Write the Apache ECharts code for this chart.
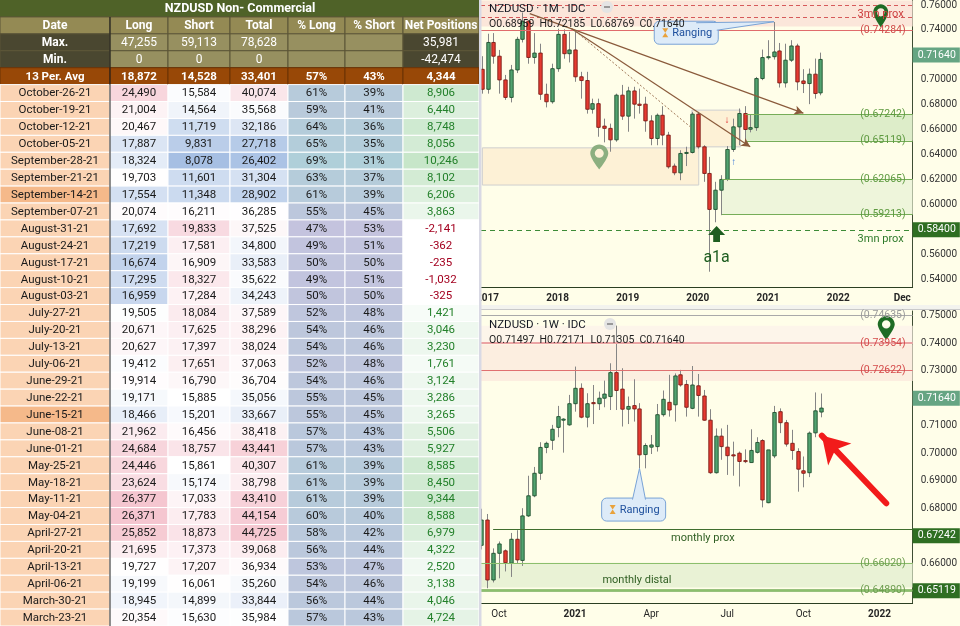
<!DOCTYPE html>
<html>
<head>
<meta charset="utf-8">
<title>NZDUSD Non-Commercial</title>
<script src="https://cdn.jsdelivr.net/npm/echarts@6.0.0/dist/echarts.min.js"></script>
<style>
  html, body { margin: 0; padding: 0; background: #ffffff; }
  #main { width: 960px; height: 626px; }
</style>
</head>
<body>
<div id="main"></div>
<script>
// ---------- COT table ----------
var tableTitle = 'NZDUSD Non- Commercial';
var headers = ['Date', 'Long', 'Short', 'Total', '% Long', '% Short', 'Net Positions'];
var maxRow = ['Max.', 47255, 59113, 78628, null, null, 35981];
var minRow = ['Min.', 0, 0, 0, null, null, -42474];
var avgRow = ['13 Per. Avg', 18872, 14528, 33401, 57, 43, 4344];

var reportDates = ['October-26-21', 'October-19-21', 'October-12-21', 'October-05-21',
  'September-28-21', 'September-21-21', 'September-14-21', 'September-07-21',
  'August-31-21', 'August-24-21', 'August-17-21', 'August-10-21', 'August-03-21',
  'July-27-21', 'July-20-21', 'July-13-21', 'July-06-21',
  'June-29-21', 'June-22-21', 'June-15-21', 'June-08-21', 'June-01-21',
  'May-25-21', 'May-18-21', 'May-11-21', 'May-04-21',
  'April-27-21', 'April-20-21', 'April-13-21', 'April-06-21',
  'March-30-21', 'March-23-21'];
var longPos = [24490, 21004, 20467, 17887, 18324, 19703, 17554, 20074, 17692, 17219, 16674, 17295, 16959,
  19505, 20671, 20627, 19412, 19914, 19171, 18466, 21962, 24684, 24446, 23624, 26377, 26371,
  25852, 21695, 19727, 19199, 18945, 20354];
var shortPos = [15584, 14564, 11719, 9831, 8078, 11601, 11348, 16211, 19833, 17581, 16909, 18327, 17284,
  18084, 17625, 17397, 17651, 16790, 15885, 15201, 16456, 18757, 15861, 15174, 17033, 17783,
  18873, 17373, 17207, 16061, 14899, 15630];
var totalPos = [40074, 35568, 32186, 27718, 26402, 31304, 28902, 36285, 37525, 34800, 33583, 35622, 34243,
  37589, 38296, 38024, 37063, 36704, 35056, 33667, 38418, 43441, 40307, 38798, 43410, 44154,
  44725, 39068, 36934, 35260, 33844, 35984];
var pctLong = [61, 59, 64, 65, 69, 63, 61, 55, 47, 49, 50, 49, 50, 52, 54, 54, 52, 54, 55, 55, 57, 57,
  61, 61, 61, 60, 58, 56, 53, 54, 56, 57];
var pctShort = [39, 41, 36, 35, 31, 37, 39, 45, 53, 51, 50, 51, 50, 48, 46, 46, 48, 46, 45, 45, 43, 43,
  39, 39, 39, 40, 42, 44, 47, 46, 44, 43];
var netPos = [8906, 6440, 8748, 8056, 10246, 8102, 6206, 3863, -2141, -362, -235, -1032, -325,
  1421, 3046, 3230, 1761, 3124, 3286, 3265, 5506, 5927, 8585, 8450, 9344, 8588,
  6979, 4322, 2520, 3138, 4046, 4724];
var markedDates = ['September-14-21', 'June-15-21'];

// ---------- monthly NZDUSD ----------
var monthDates = ['2016-12',
  '2017-01', '2017-02', '2017-03', '2017-04', '2017-05', '2017-06', '2017-07', '2017-08', '2017-09', '2017-10', '2017-11', '2017-12',
  '2018-01', '2018-02', '2018-03', '2018-04', '2018-05', '2018-06', '2018-07', '2018-08', '2018-09', '2018-10', '2018-11', '2018-12',
  '2019-01', '2019-02', '2019-03', '2019-04', '2019-05', '2019-06', '2019-07', '2019-08', '2019-09', '2019-10', '2019-11', '2019-12',
  '2020-01', '2020-02', '2020-03', '2020-04', '2020-05', '2020-06', '2020-07', '2020-08', '2020-09', '2020-10', '2020-11', '2020-12',
  '2021-01', '2021-02', '2021-03', '2021-04', '2021-05', '2021-06', '2021-07', '2021-08', '2021-09', '2021-10'];
var monthOpen = [0.7085,
  0.6925, 0.7300, 0.7190, 0.7000, 0.6860, 0.7080, 0.7325, 0.7470, 0.7180, 0.7215, 0.6885, 0.6825,
  0.7090, 0.7365, 0.7210, 0.7240, 0.7025, 0.6995, 0.6765, 0.6810, 0.6630, 0.6612, 0.6520, 0.6878,
  0.6710, 0.6912, 0.6806, 0.6806, 0.6672, 0.6531, 0.6717, 0.6558, 0.6310, 0.6256, 0.6411, 0.6419,
  0.6726, 0.6464, 0.6251, 0.5963, 0.6117, 0.6203, 0.6443, 0.6624, 0.6731, 0.6605, 0.6618, 0.7011,
  0.7179, 0.7186, 0.7232, 0.6976, 0.7158, 0.7272, 0.6992, 0.6971, 0.7046, 0.68959];
var monthHigh = [0.7190,
  0.7370, 0.7375, 0.7240, 0.7040, 0.7120, 0.7345, 0.7540, 0.7480, 0.7375, 0.7290, 0.6970, 0.7130,
  0.7410, 0.7405, 0.7385, 0.7385, 0.7065, 0.7065, 0.6850, 0.6850, 0.6690, 0.6650, 0.6890, 0.6960,
  0.6945, 0.6945, 0.6930, 0.6865, 0.6717, 0.6731, 0.6790, 0.6584, 0.6330, 0.6437, 0.6465, 0.6744,
  0.6744, 0.6477, 0.6384, 0.6184, 0.6237, 0.6470, 0.6690, 0.6771, 0.6790, 0.6720, 0.7024, 0.7243,
  0.7318, 0.7464, 0.7296, 0.7290, 0.7318, 0.7290, 0.7086, 0.7091, 0.7171, 0.72185];
var monthLow = [0.6890,
  0.6890, 0.7130, 0.6890, 0.6840, 0.6820, 0.7055, 0.7300, 0.7130, 0.7130, 0.6840, 0.6780, 0.6810,
  0.7065, 0.7170, 0.7140, 0.6985, 0.6850, 0.6730, 0.6730, 0.6545, 0.6500, 0.6425, 0.6505, 0.6680,
  0.6585, 0.6690, 0.6730, 0.6585, 0.6477, 0.6477, 0.6477, 0.6290, 0.6237, 0.6197, 0.6310, 0.6411,
  0.6450, 0.6184, 0.5464, 0.5860, 0.5917, 0.6190, 0.6424, 0.6477, 0.6517, 0.6580, 0.6592, 0.6998,
  0.7163, 0.7163, 0.6939, 0.6939, 0.7144, 0.6917, 0.6895, 0.6806, 0.6850, 0.68769];
var monthClose = [0.6925,
  0.7300, 0.7190, 0.7000, 0.6860, 0.7080, 0.7325, 0.7470, 0.7180, 0.7215, 0.6885, 0.6825, 0.7090,
  0.7365, 0.7210, 0.7240, 0.7025, 0.6995, 0.6765, 0.6810, 0.6620, 0.6612, 0.6520, 0.6878, 0.6710,
  0.6912, 0.6806, 0.6796, 0.6672, 0.6531, 0.6717, 0.6558, 0.6304, 0.6256, 0.6411, 0.6419, 0.6726,
  0.6464, 0.6251, 0.5963, 0.6117, 0.6203, 0.6443, 0.6624, 0.6731, 0.6603, 0.6618, 0.7011, 0.7179,
  0.7186, 0.7224, 0.6976, 0.7158, 0.7272, 0.6984, 0.6971, 0.7046, 0.6891, 0.71640];
var monthTickDates = ['2017-01', '2018-01', '2019-01', '2020-01', '2021-01', '2022-01', '2022-12'];
var monthTickLabels = ['2017', '2018', '2019', '2020', '2021', '2022', 'Dec'];
var monthPriceTicks = [0.54, 0.56, 0.58, 0.60, 0.62, 0.64, 0.66, 0.68, 0.70, 0.72, 0.74, 0.76];

// ---------- weekly NZDUSD ----------
var weekDates = ['2020-09-14', '2020-09-21', '2020-09-28', '2020-10-05', '2020-10-12', '2020-10-19', '2020-10-26',
  '2020-11-02', '2020-11-09', '2020-11-16', '2020-11-23', '2020-11-30', '2020-12-07', '2020-12-14', '2020-12-21', '2020-12-28',
  '2021-01-04', '2021-01-11', '2021-01-18', '2021-01-25', '2021-02-01', '2021-02-08', '2021-02-15', '2021-02-22',
  '2021-03-01', '2021-03-08', '2021-03-15', '2021-03-22', '2021-03-29', '2021-04-05', '2021-04-12', '2021-04-19', '2021-04-26',
  '2021-05-03', '2021-05-10', '2021-05-17', '2021-05-24', '2021-05-31', '2021-06-07', '2021-06-14', '2021-06-21', '2021-06-28',
  '2021-07-05', '2021-07-12', '2021-07-19', '2021-07-26', '2021-08-02', '2021-08-09', '2021-08-16', '2021-08-23', '2021-08-30',
  '2021-09-06', '2021-09-13', '2021-09-20', '2021-09-27', '2021-10-04', '2021-10-11', '2021-10-18', '2021-10-25'];
var weekOpen = [0.6665, 0.6757, 0.6539, 0.6636, 0.6645, 0.6600, 0.6687,
  0.6610, 0.6772, 0.6845, 0.6927, 0.7021, 0.7047, 0.7094, 0.7120, 0.7103,
  0.7180, 0.7236, 0.7131, 0.7184, 0.7180, 0.7200, 0.7206, 0.7293,
  0.7233, 0.7160, 0.7173, 0.7161, 0.6995, 0.7022, 0.7024, 0.7140, 0.7185,
  0.7176, 0.7285, 0.7250, 0.7163, 0.7245, 0.7208, 0.7120, 0.6929, 0.7062,
  0.7022, 0.6994, 0.7000, 0.6973, 0.6966, 0.7003, 0.7046, 0.6820, 0.6990,
  0.7151, 0.7111, 0.7036, 0.7006, 0.6936, 0.6929, 0.7074, 0.71497];
var weekHigh = [0.6798, 0.6779, 0.6654, 0.6679, 0.6650, 0.6710, 0.6720,
  0.6800, 0.6918, 0.6950, 0.7040, 0.7042, 0.7103, 0.7172, 0.7127, 0.7212,
  0.7315, 0.7254, 0.7218, 0.7248, 0.7224, 0.7264, 0.7327, 0.7464,
  0.7309, 0.7206, 0.7269, 0.7182, 0.7036, 0.7066, 0.7179, 0.7228, 0.7285,
  0.7290, 0.7303, 0.7266, 0.7317, 0.7288, 0.7230, 0.7160, 0.7090, 0.7090,
  0.7103, 0.7042, 0.7006, 0.7014, 0.7087, 0.7058, 0.7051, 0.7012, 0.7172,
  0.7163, 0.7121, 0.7085, 0.7018, 0.6988, 0.7079, 0.7221, 0.72171];
var weekLow = [0.6650, 0.6509, 0.6530, 0.6545, 0.6570, 0.6550, 0.6600,
  0.6590, 0.6768, 0.6840, 0.6903, 0.7000, 0.7012, 0.7058, 0.7002, 0.7100,
  0.7151, 0.7127, 0.7094, 0.7106, 0.7157, 0.7167, 0.7157, 0.7157,
  0.7097, 0.7106, 0.7115, 0.6945, 0.6945, 0.6997, 0.7006, 0.7133, 0.7133,
  0.7115, 0.7242, 0.7133, 0.7160, 0.7133, 0.7118, 0.6925, 0.6926, 0.6976,
  0.6921, 0.6918, 0.6879, 0.6964, 0.6966, 0.6999, 0.6803, 0.6818, 0.6982,
  0.7073, 0.7024, 0.6976, 0.6860, 0.6876, 0.6913, 0.7058, 0.71305];
var weekClose = [0.6757, 0.6539, 0.6636, 0.6670, 0.6602, 0.6687, 0.6612,
  0.6772, 0.6845, 0.6927, 0.7021, 0.7036, 0.7087, 0.7133, 0.7124, 0.7180,
  0.7236, 0.7131, 0.7180, 0.7180, 0.7200, 0.7215, 0.7293, 0.7228,
  0.7160, 0.7170, 0.7161, 0.6994, 0.7028, 0.7030, 0.7140, 0.7196, 0.7157,
  0.7281, 0.7248, 0.7167, 0.7248, 0.7210, 0.7120, 0.6929, 0.7062, 0.7024,
  0.6991, 0.6990, 0.6970, 0.6970, 0.7010, 0.7039, 0.6830, 0.7012, 0.7148,
  0.7111, 0.7033, 0.7010, 0.6942, 0.6927, 0.7073, 0.7154, 0.71640];
var weekTickDates = ['2020-10-05', '2021-01-04', '2021-04-05', '2021-07-05', '2021-10-04', '2022-01-03'];
var weekTickLabels = ['Oct', '2021', 'Apr', 'Jul', 'Oct', '2022'];
var weekPriceTicks = [0.65, 0.66, 0.67, 0.68, 0.69, 0.70, 0.71, 0.72, 0.73, 0.74, 0.75];

// ---------- drawn levels and notes ----------
var monthSupplyLevels = [0.7611, 0.7462, 0.74284];
var monthZoneA = [0.67242, 0.65119];
var monthZoneB = [0.62065, 0.59213];
var monthProx = 0.584;
var monthZoneStarts = ['2020-09-06', '2020-05-05'];
var monthRangeBoxes = [[['2016-12-05', 0.6456], ['2020-01-06', 0.6158]], [['2019-12-01', 0.6758], ['2020-08-11', 0.6464]]];
var monthTrendLines = [[['2017-08-09', 0.7531], ['2021-07-04', 0.6734]], [['2018-03-13', 0.7411], ['2020-09-30', 0.6464]]];
var monthDottedLine = [['2018-04-04', 0.7390], ['2019-12-01', 0.6614]];
var monthCallout = ['2021-02-01', 0.7466, '2019-11-02', 0.7378];
var monthPins = [['2022-08-11', 0.7422], ['2018-08-06', 0.6283]];
var monthSignal = ['2020-04-08', 0.5766, 0.5574];

var weekSupplyLevels = [0.74635, 0.73954, 0.72622];
var weekDemandLevels = [0.67242, 0.66020, 0.65119, 0.64890];
var weekProxStart = '2020-09-28';
var weekCallout = ['2021-03-22', 0.6945, '2021-03-15', 0.6795];
var weekPin = ['2022-01-11', 0.7412];
var weekDistalNote = ['2021-03-19', 0.6539];
var weekArrow = [['2022-01-11', 0.6818], ['2021-10-26', 0.7064]];
var lastPrice = 0.71640;

// ---------- helpers ----------
function toTime(s) {
  var p = s.split('-');
  return new Date(+p[0], +p[1] - 1, p[2] ? +p[2] : 1).getTime();
}
function fmt(v) {
  var s = String(Math.abs(v)).replace(/\B(?=(\d{3})+(?!\d))/g, ',');
  return v < 0 ? '-' + s : s;
}
function rgb(h) {
  return [parseInt(h.substr(1, 2), 16), parseInt(h.substr(3, 2), 16), parseInt(h.substr(5, 2), 16)];
}
function mix(a, b, t) {
  t = Math.max(0, Math.min(1, t));
  var x = rgb(a), y = rgb(b);
  return 'rgb(' + [0, 1, 2].map(function (i) { return Math.round(x[i] + (y[i] - x[i]) * t); }).join(',') + ')';
}
function threeScale(v, d) {
  if (v <= d[1]) return mix('#9FBAE1', '#FFFFFF', (v - d[0]) / (d[1] - d[0]));
  return mix('#FFFFFF', '#F3BDC8', (v - d[1]) / (d[2] - d[1]));
}
function tickText(v, dates, labels) {
  for (var i = 0; i < dates.length; i++) {
    if (Math.abs(toTime(dates[i]) - v) < 86400000) return labels[i];
  }
  return '';
}
function ohlc(o, h, l, c) {
  var i = o.length - 1;
  return 'O' + o[i].toFixed(5) + '  H' + h[i].toFixed(5) + '  L' + l[i].toFixed(5) + '  C' + c[i].toFixed(5);
}

var chartFont = 'Roboto';
var tableFont = 'Roboto';

// ---------- table cells ----------
var colEdges = [0, 110, 168, 230, 288, 345, 403, 479];
var scaleLong = [15000, 19600, 27500];
var scaleShort = [7500, 15900, 23000];
var scaleTotal = [25000, 36200, 46500];

function cellInfo(col, row) {
  var dark = '#4A4730', khaki = '#948A54';
  if (row === 0) return { fill: '#4F6228' };
  if (row === 1) return { fill: khaki, stroke: '#5B5536', text: headers[col], color: '#FFFFFF', font: 'bold 12px ' + tableFont };
  if (row === 2 || row === 3) {
    var r = row === 2 ? maxRow : minRow;
    var v = r[col];
    return {
      fill: (col === 0 || col === 6) ? dark : '#979060', stroke: '#5B5536',
      text: v === null ? '' : (col === 0 ? v : fmt(v)), color: '#FFFFFF',
      font: (col === 0 ? 'bold ' : '') + '12px ' + tableFont
    };
  }
  if (row === 4) {
    var a = avgRow[col];
    return {
      fill: '#984807', stroke: '#6B3205',
      text: col === 0 ? a : ((col === 4 || col === 5) ? a + '%' : fmt(a)),
      color: '#FFFFFF', font: 'bold 11.5px ' + tableFont
    };
  }
  var i = row - 5;
  var base = { stroke: '#FFFFFF', color: '#1A1A1A', font: '11.5px ' + tableFont };
  if (col === 0) {
    base.fill = markedDates.indexOf(reportDates[i]) >= 0 ? '#F5B98A' : '#FBD4B4';
    base.text = reportDates[i];
  } else if (col === 1) {
    base.fill = threeScale(longPos[i], scaleLong); base.text = fmt(longPos[i]);
  } else if (col === 2) {
    base.fill = threeScale(shortPos[i], scaleShort); base.text = fmt(shortPos[i]);
  } else if (col === 3) {
    base.fill = threeScale(totalPos[i], scaleTotal); base.text = fmt(totalPos[i]);
  } else if (col === 4) {
    base.fill = mix('#C4C3DE', '#AFCFD9', (pctLong[i] - 47) / 22); base.text = pctLong[i] + '%';
  } else if (col === 5) {
    base.fill = mix('#C4C3DE', '#AFCFD9', (53 - pctShort[i]) / 22); base.text = pctShort[i] + '%';
  } else {
    var n = netPos[i];
    base.fill = n > 0 ? mix('#FFFFFF', '#C3E4C5', n / 11000) : '#FFFFFF';
    base.text = fmt(n);
    base.color = n < 0 ? '#A3001F' : '#23802A';
  }
  return base;
}

function makeCellRenderer(col) {
  return function (params, api) {
    var row = api.value(1);
    var c = api.coord([0, row]);
    var s = api.size([1, 1]);
    var info = cellInfo(col, row);
    var kids = [{
      type: 'rect',
      shape: { x: c[0] - s[0] / 2, y: c[1] - s[1] / 2, width: s[0], height: s[1] },
      style: { fill: info.fill, stroke: info.stroke || null, lineWidth: info.stroke ? 1 : 0 }
    }];
    if (info.text) {
      kids.push({
        type: 'text',
        style: { text: info.text, x: c[0], y: c[1] + 0.5, align: 'center', verticalAlign: 'middle', fill: info.color, font: info.font }
      });
    }
    return { type: 'group', children: kids };
  };
}

// ---------- candles ----------
function renderCandle(params, api) {
  var t = api.value(0), o = api.value(1), c = api.value(2), l = api.value(3), h = api.value(4);
  var po = api.coord([t, o]), pc = api.coord([t, c]), pl = api.coord([t, l]), ph = api.coord([t, h]);
  var x = Math.round(po[0]) + 0.5;
  var up = c >= o;
  var top = Math.min(po[1], pc[1]);
  var hgt = Math.max(Math.abs(po[1] - pc[1]), 1);
  return {
    type: 'group',
    children: [
      { type: 'line', shape: { x1: x, y1: ph[1], x2: x, y2: pl[1] }, style: { stroke: '#858585', lineWidth: 1 } },
      {
        type: 'rect', shape: { x: x - 1.7, y: top, width: 3.4, height: hgt },
        style: { fill: up ? '#52A370' : '#E63A30', stroke: up ? '#1F4F2E' : '#7A1D17', lineWidth: 0.9 }
      }
    ]
  };
}

function renderCallout(params, api) {
  var a = api.coord([api.value(0), api.value(1)]);
  var b = api.coord([api.value(2), api.value(3)]);
  var w = 64, h = 23, x0 = b[0] - w / 2, y0 = b[1] - h / 2;
  var tail;
  if (a[0] > x0 + w) tail = [[x0 + w - 22, y0 + 1.5], a, [x0 + w - 1.5, y0 + 9]];
  else tail = [[a[0] - 7, y0 + 1.5], a, [a[0] + 6, y0 + 1.5]];
  var cx = x0 + 11, cy = b[1];
  return {
    type: 'group',
    children: [
      { type: 'rect', shape: { x: x0, y: y0, width: w, height: h, r: 5 }, style: { fill: '#DDEBF8', stroke: '#79A3D6', lineWidth: 1 } },
      { type: 'polygon', shape: { points: tail }, style: { fill: '#DDEBF8' } },
      { type: 'polyline', shape: { points: tail }, style: { stroke: '#79A3D6', lineWidth: 1, fill: 'none' } },
      { type: 'polygon', shape: { points: [[cx - 3, cy - 4.5], [cx + 3, cy - 4.5], [cx, cy]] }, style: { fill: '#E9A23B' } },
      { type: 'polygon', shape: { points: [[cx, cy], [cx - 3, cy + 4.5], [cx + 3, cy + 4.5]] }, style: { fill: '#E9A23B' } },
      { type: 'text', style: { text: 'Ranging', x: x0 + 18, y: cy + 0.5, verticalAlign: 'middle', font: '11px Roboto', fill: '#1D4F9C' } }
    ]
  };
}

var pinPath = 'path://M12,0 C5.4,0 0,5.4 0,12 C0,19 12,34 12,34 C12,34 24,19 24,12 C24,5.4 18.6,0 12,0 Z M12,6 A6,6 0 1,1 12,18 A6,6 0 1,1 12,6 Z';
var upArrowPath = 'path://M10,0 L20,10 L14,10 L14,18 L6,18 L6,10 L0,10 Z';
var hidden = 'rgba(0,0,0,0)';

function priceBox(v, bg) {
  return {
    yAxis: v, lineStyle: { color: hidden, width: 1, type: 'solid' },
    label: {
      show: true, position: 'end', distance: 0, formatter: v.toFixed(5), color: '#FFFFFF',
      backgroundColor: bg, padding: [2, 4, 2, 5], fontSize: 10.5, fontFamily: chartFont
    }
  };
}
function strikeLabel(v, color, lineColor, width) {
  return {
    yAxis: v, lineStyle: { color: lineColor, width: width || 1, type: 'solid' },
    label: { show: true, position: 'insideEnd', distance: 7, formatter: '(' + v.toFixed(5) + ')', color: color, fontSize: 10.5, fontFamily: chartFont }
  };
}
function textPoint(t, p, text, color, size) {
  return {
    coord: [toTime(t), p], symbol: 'rect', symbolSize: 1, itemStyle: { color: hidden },
    label: { show: true, position: 'inside', formatter: text, color: color, fontSize: size, fontFamily: 'Roboto' }
  };
}

// ---------- axis extents ----------
var monthXMin = toTime('2016-11-28'), monthXMax = toTime('2023-01-24');
var monthYMin = 0.53416, monthYMax = 0.76376;
var weekXMin = toTime('2020-09-13') + 12 * 3600e3, weekXMax = toTime('2022-02-11') + 14 * 3600e3;
var weekYMin = 0.645418, weekYMax = 0.751709;

var monthCandles = monthDates.map(function (d, i) { return [toTime(d), monthOpen[i], monthClose[i], monthLow[i], monthHigh[i]]; });
var weekCandles = weekDates.map(function (d, i) { return [toTime(d), weekOpen[i], weekClose[i], weekLow[i], weekHigh[i]]; });

// ---------- build option ----------
var grids = [], xAxes = [], yAxes = [], series = [];
var rowKeys = [];
for (var r = 0; r < 5 + reportDates.length; r++) rowKeys.push(String(r));

for (var k = 0; k < 7; k++) {
  grids.push({ left: colEdges[k], top: 0, width: colEdges[k + 1] - colEdges[k], height: 626 });
  xAxes.push({ type: 'category', gridIndex: k, data: [headers[k]], show: false });
  yAxes.push({ type: 'category', gridIndex: k, data: rowKeys, inverse: true, show: false });
  var cells = [];
  for (var rr = 0; rr < rowKeys.length; rr++) cells.push([0, rr]);
  series.push({
    type: 'custom', xAxisIndex: k, yAxisIndex: k, data: cells, renderItem: makeCellRenderer(k),
    z: 10, silent: true, animation: false
  });
}

// monthly grid = 7, weekly grid = 8
grids.push({ left: 481, top: 0, width: 434, height: 287 });
grids.push({ left: 481, top: 311, width: 434, height: 292.3 });

// x as plain value axes holding timestamps, so the labels can sit on chosen dates
function dateAxis(grid, min, max, tickDates, tickLabels) {
  return {
    type: 'value', gridIndex: grid, min: min, max: max, scale: true,
    axisLine: { show: true, onZero: false, lineStyle: { color: '#2B3F22', width: 1 } },
    axisTick: { show: false }, splitLine: { show: false },
    axisLabel: {
      customValues: tickDates.map(toTime),
      formatter: function (v) {
        var s = tickText(v, tickDates, tickLabels);
        return /^\d+$/.test(s) ? '{y|' + s + '}' : '{m|' + s + '}';
      },
      margin: 6,
      rich: {
        y: { fontWeight: 'bold', fontSize: 10, color: '#262626', fontFamily: chartFont },
        m: { fontWeight: grid === 7 ? 'bold' : 'normal', fontSize: 10, color: '#262626', fontFamily: chartFont }
      }
    }
  };
}
function priceAxis(grid, min, max, ticks) {
  return {
    type: 'value', gridIndex: grid, position: 'right', min: min, max: max, scale: true,
    axisLine: { show: true, onZero: false, lineStyle: { color: '#3E4D33' } },
    axisTick: { show: false }, splitLine: { show: false },
    axisLabel: {
      customValues: ticks, formatter: function (v) { return v.toFixed(5); },
      color: '#333333', fontSize: 10, fontFamily: chartFont, margin: 8
    }
  };
}
xAxes.push(dateAxis(7, monthXMin, monthXMax, monthTickDates, monthTickLabels));
xAxes.push(dateAxis(8, weekXMin, weekXMax, weekTickDates, weekTickLabels));
yAxes.push(priceAxis(7, monthYMin, monthYMax, monthPriceTicks));
yAxes.push(priceAxis(8, weekYMin, weekYMax, weekPriceTicks));

var mEnd = monthXMax - 3600e3, wEnd = weekXMax - 3600e3;
var trendStyle = { color: '#8A5A3B', width: 1.2, type: 'solid' };
var zoneLine = { color: '#76AD58', width: 1, type: 'solid' };
function zoneLabel(v) {
  return { show: true, position: 'insideEnd', distance: 7, formatter: '(' + v.toFixed(5) + ')', color: '#5E9A40', fontSize: 10.5, fontFamily: chartFont };
}

// monthly annotations
series.push({
  type: 'line', xAxisIndex: 7, yAxisIndex: 7, data: [], clip: false, silent: true, animation: false,
  markArea: {
    silent: true,
    data: [
      [{ yAxis: monthSupplyLevels[2], itemStyle: { color: '#FBE6DA' } }, { yAxis: monthYMax - 0.0001 }],
      [{ coord: [toTime(monthRangeBoxes[0][0][0]), monthRangeBoxes[0][0][1]], itemStyle: { color: '#FDF1D6', borderColor: '#CFCFCF', borderWidth: 1 } },
       { coord: [toTime(monthRangeBoxes[0][1][0]), monthRangeBoxes[0][1][1]] }],
      [{ coord: [toTime(monthRangeBoxes[1][0][0]), monthRangeBoxes[1][0][1]], itemStyle: { color: '#FDF1D6', borderColor: '#CFCFCF', borderWidth: 1 } },
       { coord: [toTime(monthRangeBoxes[1][1][0]), monthRangeBoxes[1][1][1]] }],
      [{ coord: [toTime(monthZoneStarts[0]), monthZoneA[0]], itemStyle: { color: '#DDEDC9' } }, { coord: [mEnd, monthZoneA[1]] }],
      [{ coord: [toTime(monthZoneStarts[1]), monthZoneB[0]], itemStyle: { color: '#EEF5DB' } }, { coord: [mEnd, monthZoneB[1]] }]
    ]
  },
  markLine: {
    silent: true, symbol: ['none', 'none'], label: { show: false }, lineStyle: { type: 'solid' },
    data: [
      { yAxis: monthSupplyLevels[0], lineStyle: { color: '#D65A5A', type: [4, 3], width: 1 },
        label: { show: true, position: 'insideEndBottom', distance: [9, 4], formatter: '3mn prox', color: '#CC3D3D', fontSize: 11, fontFamily: chartFont } },
      { yAxis: monthSupplyLevels[1], lineStyle: { color: '#D65A5A', type: [4, 3], width: 1 } },
      strikeLabel(monthSupplyLevels[2], '#D04A4A', '#E06C6C'),
      [{ coord: [toTime(monthZoneStarts[0]), monthZoneA[0]], lineStyle: zoneLine, label: zoneLabel(monthZoneA[0]) }, { coord: [mEnd, monthZoneA[0]] }],
      [{ coord: [toTime(monthZoneStarts[0]), monthZoneA[1]], lineStyle: zoneLine, label: zoneLabel(monthZoneA[1]) }, { coord: [mEnd, monthZoneA[1]] }],
      [{ coord: [toTime(monthZoneStarts[1]), monthZoneB[0]], lineStyle: zoneLine, label: zoneLabel(monthZoneB[0]) }, { coord: [mEnd, monthZoneB[0]] }],
      [{ coord: [toTime(monthZoneStarts[1]), monthZoneB[1]], lineStyle: zoneLine, label: zoneLabel(monthZoneB[1]) }, { coord: [mEnd, monthZoneB[1]] }],
      { yAxis: monthProx, lineStyle: { color: '#3D8B37', type: [5, 4], width: 1 },
        label: { show: true, position: 'insideEndBottom', distance: [9, 4], formatter: '3mn prox', color: '#2E7A2A', fontSize: 11, fontFamily: chartFont } },
      [{ coord: [toTime(monthTrendLines[0][0][0]), monthTrendLines[0][0][1]], lineStyle: trendStyle },
       { coord: [toTime(monthTrendLines[0][1][0]), monthTrendLines[0][1][1]], symbol: 'arrow', symbolSize: [7, 9] }],
      [{ coord: [toTime(monthTrendLines[1][0][0]), monthTrendLines[1][0][1]], lineStyle: trendStyle },
       { coord: [toTime(monthTrendLines[1][1][0]), monthTrendLines[1][1][1]], symbol: 'arrow', symbolSize: [7, 9] }],
      [{ coord: [toTime(monthDottedLine[0][0]), monthDottedLine[0][1]], lineStyle: { color: '#A07858', width: 1, type: [2, 2] } },
       { coord: [toTime(monthDottedLine[1][0]), monthDottedLine[1][1]] }],
      priceBox(monthProx, '#2F6E22'),
      priceBox(lastPrice, '#66A583')
    ]
  },
  markPoint: {
    silent: true,
    data: [
      { coord: [toTime(monthPins[0][0]), monthPins[0][1]], symbol: pinPath, symbolSize: [15, 23], symbolOffset: [0, '-50%'],
        itemStyle: { color: '#1E6B24' }, label: { show: false } },
      { coord: [toTime(monthPins[1][0]), monthPins[1][1]], symbol: pinPath, symbolSize: [18, 25], symbolOffset: [0, '-50%'],
        itemStyle: { color: '#8CAF80' }, label: { show: false } },
      { coord: [toTime(monthSignal[0]), monthSignal[1]], symbol: upArrowPath, symbolSize: [17, 16],
        itemStyle: { color: '#1E5E20' }, label: { show: false } },
      textPoint(monthSignal[0], monthSignal[2], 'a1a', '#1E5E20', 16),
      textPoint('2020-06-01', 0.6678, '↓', '#E03030', 10),
      textPoint('2020-07-06', 0.6342, '↑', '#3A78D8', 10)
    ]
  }
});
series.push({
  type: 'custom', xAxisIndex: 7, yAxisIndex: 7, data: monthCandles, renderItem: renderCandle,
  clip: true, z: 3, silent: true, animation: false
});
series.push({
  type: 'custom', xAxisIndex: 7, yAxisIndex: 7,
  data: [[toTime(monthCallout[0]), monthCallout[1], toTime(monthCallout[2]), monthCallout[3]]],
  renderItem: renderCallout, z: 6, silent: true, animation: false
});

// weekly annotations
series.push({
  type: 'line', xAxisIndex: 8, yAxisIndex: 8, data: [], clip: false, silent: true, animation: false,
  markArea: {
    silent: true,
    data: [
      [{ yAxis: weekSupplyLevels[0], itemStyle: { color: '#FDF5EA' } }, { yAxis: weekSupplyLevels[1] }],
      [{ yAxis: weekSupplyLevels[1], itemStyle: { color: '#FCEEE0' } }, { yAxis: weekSupplyLevels[2] }],
      [{ yAxis: weekDemandLevels[1], itemStyle: { color: '#E9F2D5' } }, { yAxis: weekDemandLevels[2] }]
    ]
  },
  markLine: {
    silent: true, symbol: ['none', 'none'], label: { show: false }, lineStyle: { type: 'solid' },
    data: [
      strikeLabel(weekSupplyLevels[0], '#9A9A9A', '#A9A9A9'),
      strikeLabel(weekSupplyLevels[1], '#D44B4B', '#EBA4A4', 2),
      strikeLabel(weekSupplyLevels[2], '#D44B4B', '#E07070'),
      [{ coord: [toTime(weekProxStart), weekDemandLevels[0]], lineStyle: { color: '#3F6E2E', width: 1.2, type: 'solid' },
         label: { show: true, position: 'insideMiddleBottom', distance: 4, formatter: 'monthly prox', color: '#2F5E22', fontSize: 11, fontFamily: 'Roboto' } },
       { coord: [wEnd, weekDemandLevels[0]] }],
      strikeLabel(weekDemandLevels[1], '#6E9E50', '#8CBF6C'),
      { yAxis: weekDemandLevels[2], lineStyle: { color: '#75AD57', width: 2.5, type: 'solid' } },
      strikeLabel(weekDemandLevels[3], '#6E9E50', '#8CBF6C'),
      [{ coord: [toTime(weekArrow[0][0]), weekArrow[0][1]], lineStyle: { color: '#F21B1B', width: 6, type: 'solid', cap: 'round' } },
       { coord: [toTime(weekArrow[1][0]), weekArrow[1][1]], symbol: 'arrow', symbolSize: [24, 26] }],
      priceBox(weekDemandLevels[0], '#2F6E22'),
      priceBox(weekDemandLevels[2], '#2F6E22'),
      priceBox(lastPrice, '#66A583')
    ]
  },
  markPoint: {
    silent: true,
    data: [
      { coord: [toTime(weekPin[0]), weekPin[1]], symbol: pinPath, symbolSize: [17, 24], symbolOffset: [0, '-50%'],
        itemStyle: { color: '#1E6B24' }, label: { show: false } },
      textPoint(weekDistalNote[0], weekDistalNote[1], 'monthly distal', '#2F5E22', 11)
    ]
  }
});
series.push({
  type: 'custom', xAxisIndex: 8, yAxisIndex: 8, data: weekCandles, renderItem: renderCandle,
  clip: true, z: 3, silent: true, animation: false
});
series.push({
  type: 'custom', xAxisIndex: 8, yAxisIndex: 8,
  data: [[toTime(weekCallout[0]), weekCallout[1], toTime(weekCallout[2]), weekCallout[3]]],
  renderItem: renderCallout, z: 6, silent: true, animation: false
});

var graphics = [
  { type: 'rect', shape: { x: 481, y: 0, width: 479, height: 626 }, style: { fill: '#FFFEE9' }, z: -10, silent: true },
  { type: 'rect', shape: { x: 481, y: 305, width: 479, height: 5 }, style: { fill: '#F3F3EE' }, z: -9, silent: true },
  { type: 'line', shape: { x1: 481, y1: 309.5, x2: 960, y2: 309.5 }, style: { stroke: '#C9C9C9', lineWidth: 1 }, z: -9, silent: true },
  { type: 'rect', shape: { x: 479, y: 0, width: 2.5, height: 626 }, style: { fill: '#D9D9E4' }, z: 11, silent: true },
  { type: 'line', shape: { x1: 110, y1: 17, x2: 110, y2: 626 }, style: { stroke: '#1F1F1F', lineWidth: 1 }, z: 12, silent: true },
  { type: 'text', x: 240, y: 9, style: { text: tableTitle, align: 'center', verticalAlign: 'middle', fill: '#FFFFFF', font: 'bold 12.5px Roboto' }, z: 12, silent: true },
  { type: 'text', x: 489, y: 9, style: { text: 'NZDUSD · 1M · IDC', verticalAlign: 'middle', fill: '#131722', font: '11.5px Roboto' }, z: 20, silent: true },
  { type: 'text', x: 489, y: 24.5, style: { text: ohlc(monthOpen, monthHigh, monthLow, monthClose), verticalAlign: 'middle', fill: '#1E1E1E', font: '10.5px Roboto' }, z: 20, silent: true },
  { type: 'circle', shape: { cx: 607, cy: 7, r: 6 }, style: { fill: '#E4E4E4' }, z: 20, silent: true },
  { type: 'line', shape: { x1: 604, y1: 7, x2: 610, y2: 7 }, style: { stroke: '#808080', lineWidth: 1.5 }, z: 21, silent: true },
  { type: 'text', x: 489, y: 325, style: { text: 'NZDUSD · 1W · IDC', verticalAlign: 'middle', fill: '#131722', font: '11.5px Roboto' }, z: 20, silent: true },
  { type: 'text', x: 489, y: 340, style: { text: ohlc(weekOpen, weekHigh, weekLow, weekClose), verticalAlign: 'middle', fill: '#1E1E1E', font: '10.5px Roboto' }, z: 20, silent: true },
  { type: 'circle', shape: { cx: 610, cy: 324, r: 6 }, style: { fill: '#E4E4E4' }, z: 20, silent: true },
  { type: 'line', shape: { x1: 607, y1: 324, x2: 613, y2: 324 }, style: { stroke: '#808080', lineWidth: 1.5 }, z: 21, silent: true }
];

var chart = echarts.init(document.getElementById('main'));
chart.setOption({
  animation: false,
  backgroundColor: '#FFFFFF',
  textStyle: { fontFamily: 'Roboto' },
  grid: grids,
  xAxis: xAxes,
  yAxis: yAxes,
  graphic: graphics,
  series: series
});
</script>
</body>
</html>
